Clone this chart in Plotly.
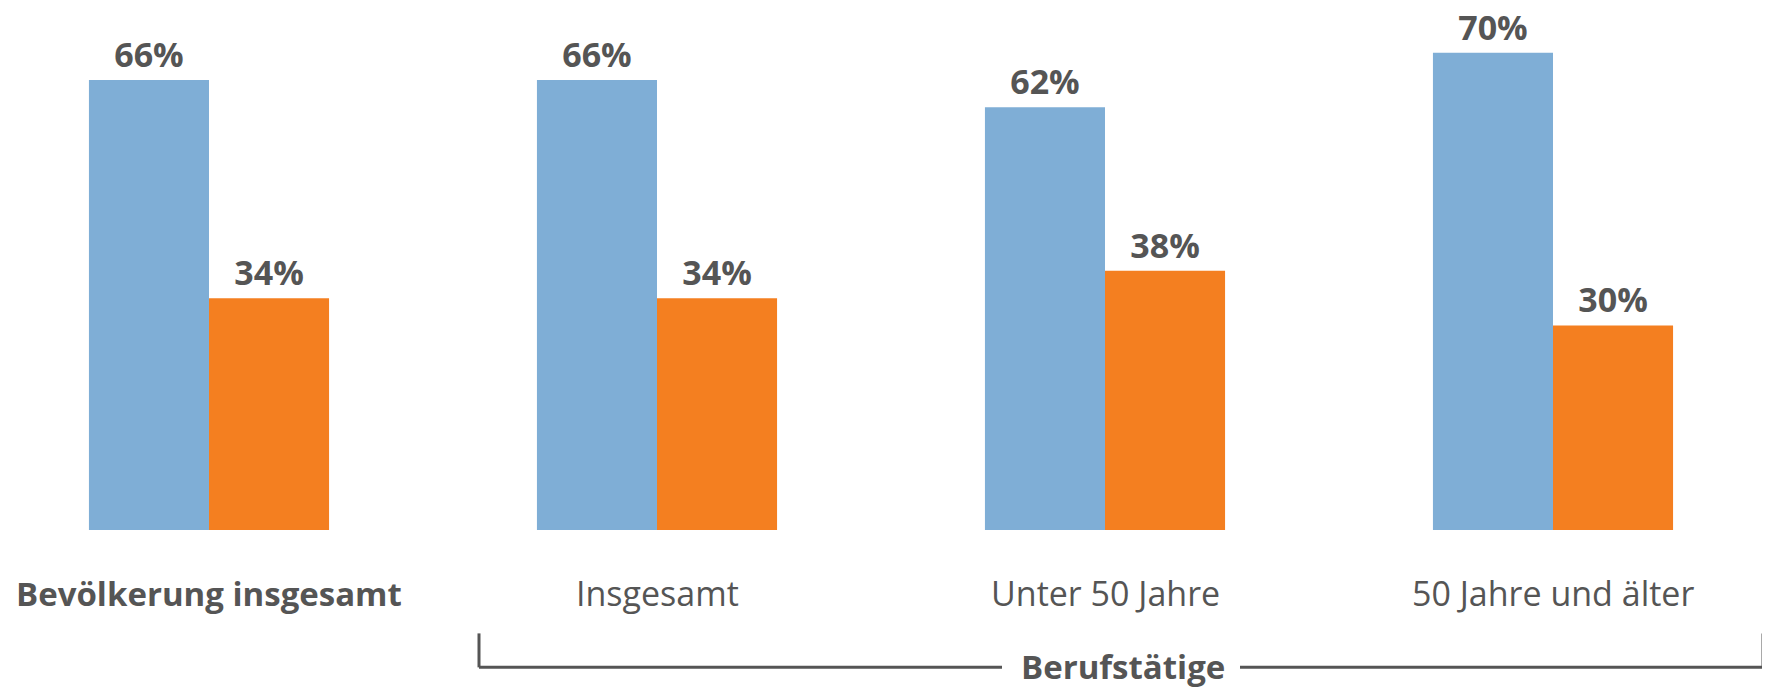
import plotly.graph_objects as go

# Data
# ----------------------------
categories = ["Bevölkerung insgesamt", "Insgesamt", "Unter 50 Jahre", "50 Jahre und älter"]
tick_labels = ["<b>Bevölkerung insgesamt</b>", "Insgesamt", "Unter 50 Jahre", "50 Jahre und älter"]
blue_values = [66, 66, 62, 70]
orange_values = [34, 34, 38, 30]
group_label = "Berufstätige"

BLUE = "#7FAED6"
ORANGE = "#F47F20"
TEXT = "#555555"
FONT = "Open Sans"

# the page body has an 8px margin, so work in page pixels and shift
OFF = 8
W, H = 1770 - OFF, 690 - OFF
TOP = 10
BOTTOM = H - (530.5 - OFF)
PLOT_H = H - TOP - BOTTOM
PX_PER_PCT = 6.826
GROUP_STEP = 448
FIRST_CENTER = 209 - OFF


def px(x_page):
    return (x_page - OFF) / W


def py(y_page):
    return (H - BOTTOM - (y_page - OFF)) / PLOT_H


fig = go.Figure()

for vals, color in [(blue_values, BLUE), (orange_values, ORANGE)]:
    fig.add_trace(
        go.Bar(
            x=categories,
            y=vals,
            marker=dict(color=color, line=dict(width=0)),
            text=[f"{v}%" for v in vals],
            textposition="outside",
            textfont=dict(family=FONT, size=34, color=TEXT, weight="bold"),
            cliponaxis=False,
            showlegend=False,
            hoverinfo="skip",
        )
    )

# Category labels
# ----------------------------
annotations = []
for i, (cat, lab) in enumerate(zip(categories, tick_labels)):
    annotations.append(
        dict(
            x=cat, xref="x", y=py(594), yref="paper",
            text=lab, showarrow=False, xanchor="center", yanchor="middle",
            font=dict(family=FONT, size=33 if i == 0 else 34, color=TEXT),
        )
    )

annotations.append(
    dict(
        x=px(1123), xref="paper", y=py(667), yref="paper",
        text=f"<b>{group_label}</b>", showarrow=False,
        xanchor="center", yanchor="middle",
        font=dict(family=FONT, size=33, color=TEXT),
    )
)

# Bracket
# ----------------------------
line = dict(color=TEXT, width=3)
shapes = [
    dict(type="line", xref="paper", yref="paper", x0=px(479), x1=px(479), y0=py(634), y1=py(668), line=line),
    dict(type="line", xref="paper", yref="paper", x0=px(1763), x1=px(1763), y0=py(634), y1=py(668), line=line),
    dict(type="line", xref="paper", yref="paper", x0=px(479), x1=px(1002), y0=py(668), y1=py(668), line=line),
    dict(type="line", xref="paper", yref="paper", x0=px(1240), x1=px(1763), y0=py(668), y1=py(668), line=line),
]

# Layout
# ----------------------------
fig.update_layout(
    width=W,
    height=H,
    barmode="group",
    bargap=0.464,
    bargroupgap=0,
    plot_bgcolor="white",
    paper_bgcolor="white",
    margin=dict(l=0, r=0, t=TOP, b=BOTTOM),
    annotations=annotations,
    shapes=shapes,
    xaxis=dict(
        type="category",
        range=[-FIRST_CENTER / GROUP_STEP, (W - FIRST_CENTER) / GROUP_STEP],
        showticklabels=False,
        showgrid=False,
        zeroline=False,
        showline=False,
    ),
    yaxis=dict(
        range=[0, PLOT_H / PX_PER_PCT],
        showticklabels=False,
        showgrid=False,
        zeroline=False,
        showline=False,
    ),
)

fig.write_html("out.html")
